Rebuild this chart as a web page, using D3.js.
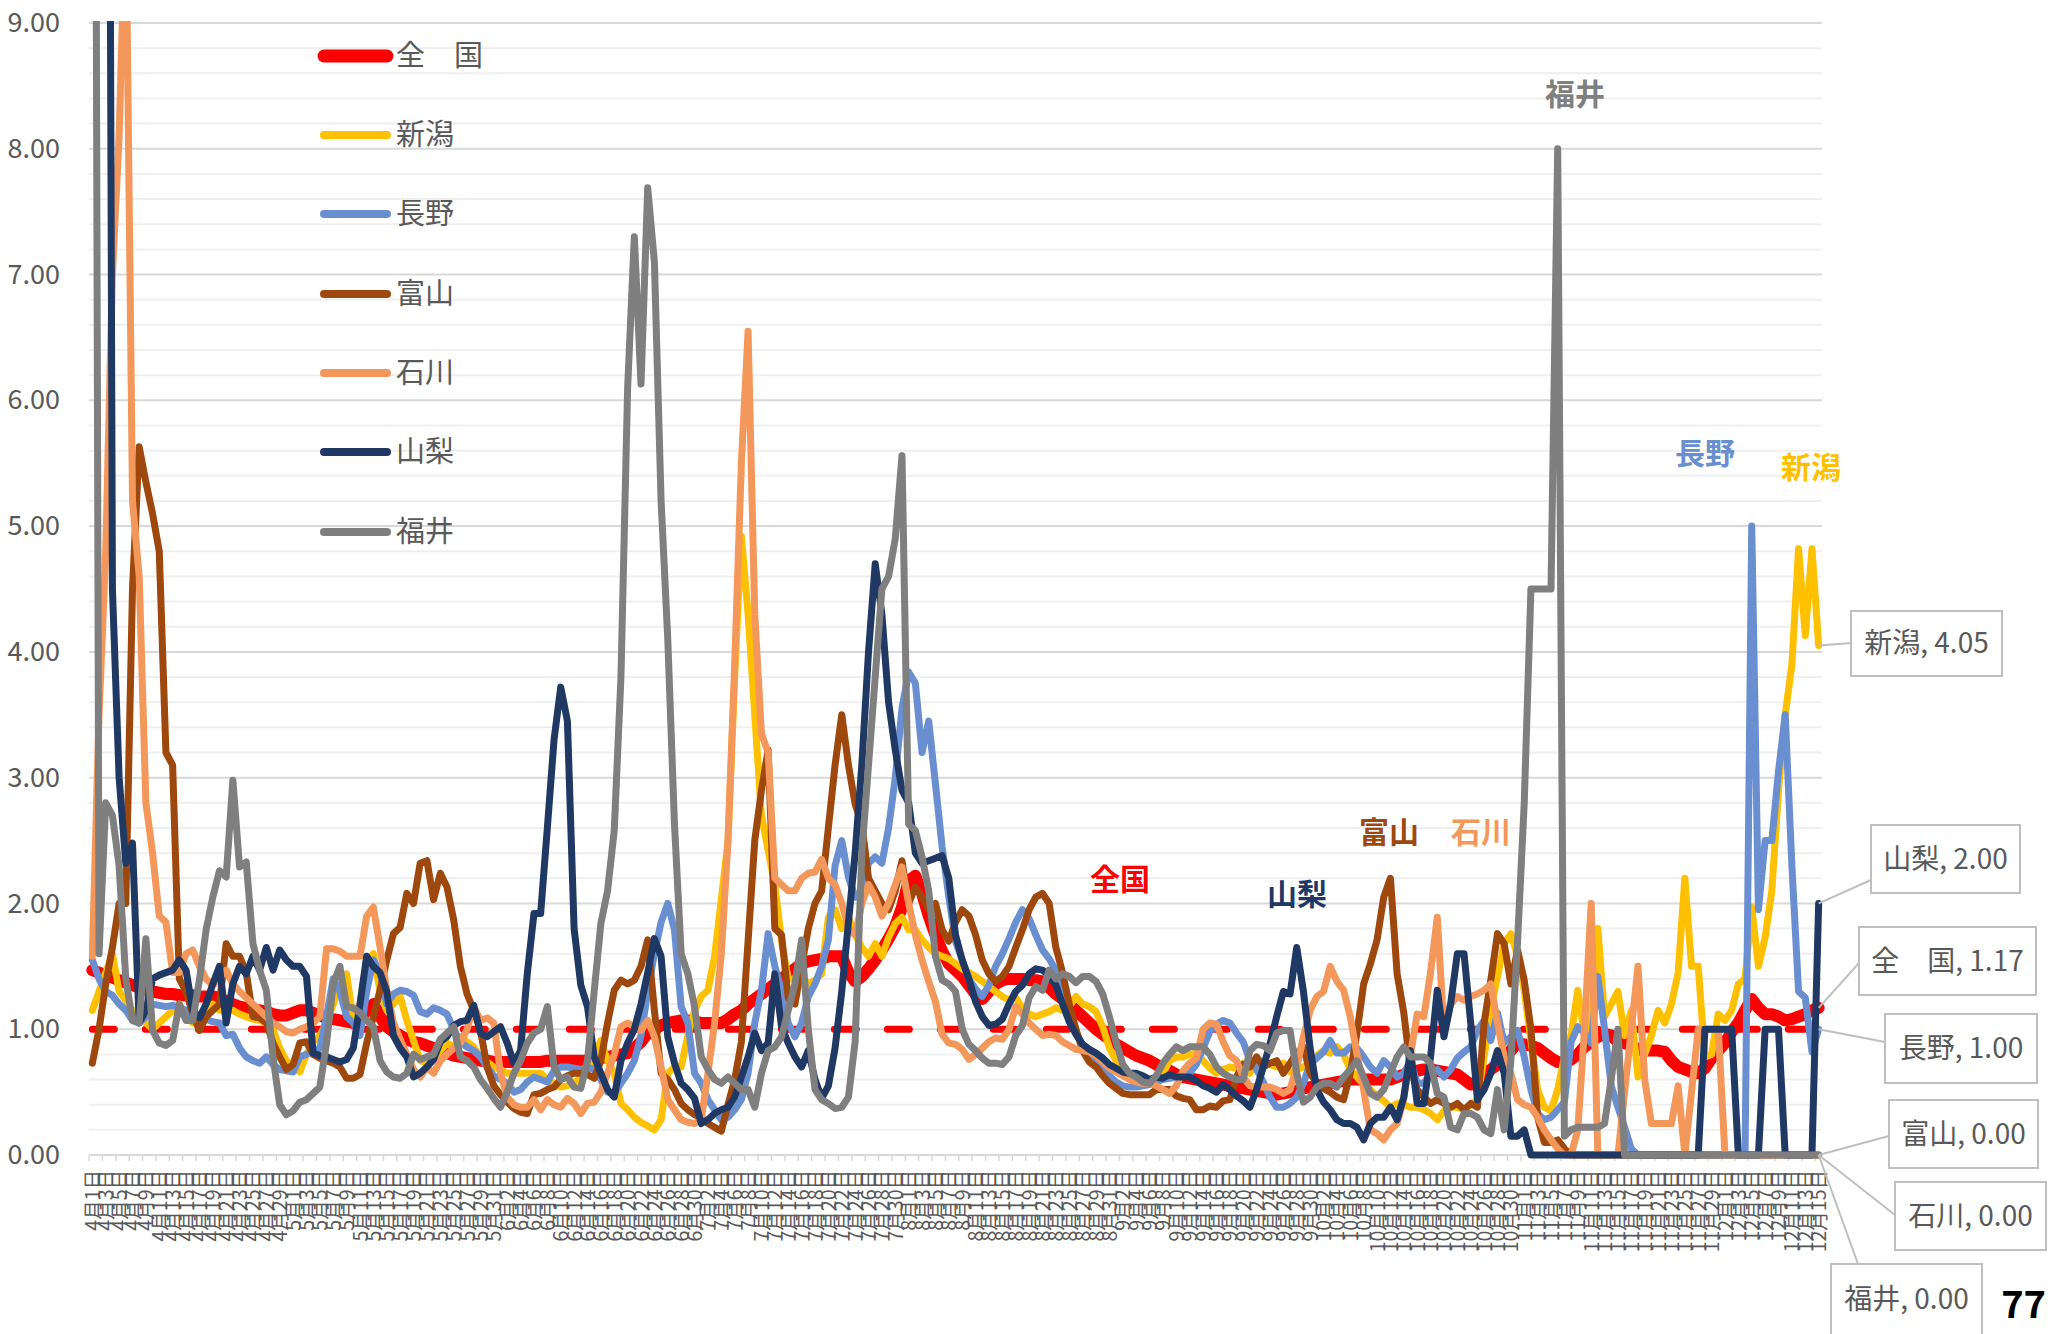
<!DOCTYPE html>
<html><head><meta charset="utf-8">
<script src="https://cdn.jsdelivr.net/npm/d3@7"></script>
<style>
html,body{margin:0;padding:0;background:#fff;}
svg{display:block;}
text{font-family:'Noto Sans CJK JP','Noto Sans',sans-serif;}
</style>
</head><body>
<svg id="chart" width="2055" height="1334"></svg>
<script>
// ---- categories (daily, 4/1 - 12/15) ----
const months = [4,5,6,7,8,9,10,11,12];
const monthLengths = [30,31,30,31,31,30,31,30,15];
const categories = [];
months.forEach((m,k)=>{ for(let d=1; d<=monthLengths[k]; d++) categories.push(m+"月"+d+"日"); });

const yTicks = [0,1,2,3,4,5,6,7,8,9];
const refLevel = 1.0;

// ---- series values ----
const zenkoku = [
1.47,1.45,1.43,1.41,1.39,1.37,1.35,1.33,1.31,1.30,
1.29,1.28,1.28,1.27,1.27,1.27,1.26,1.26,1.26,1.25,
1.22,1.20,1.18,1.17,1.16,1.15,1.14,1.12,1.11,1.11,
1.13,1.15,1.15,1.13,1.11,1.09,1.08,1.07,1.06,1.05,
1.08,1.15,1.20,1.10,1.02,0.98,0.95,0.92,0.90,0.89,
0.87,0.85,0.83,0.81,0.79,0.78,0.77,0.76,0.75,0.75,
0.74,0.74,0.74,0.74,0.74,0.74,0.74,0.74,0.75,0.75,
0.75,0.75,0.75,0.75,0.75,0.76,0.77,0.78,0.79,0.80,
0.81,0.85,0.90,0.97,1.00,1.03,1.05,1.06,1.07,1.07,
1.06,1.05,1.05,1.05,1.05,1.08,1.12,1.15,1.20,1.24,
1.28,1.32,1.36,1.40,1.44,1.48,1.52,1.54,1.55,1.56,
1.58,1.58,1.58,1.45,1.38,1.42,1.48,1.55,1.63,1.72,
1.82,1.97,2.18,2.22,2.08,1.90,1.75,1.62,1.52,1.47,
1.42,1.35,1.28,1.24,1.30,1.36,1.39,1.40,1.40,1.40,
1.39,1.39,1.38,1.33,1.28,1.24,1.20,1.15,1.10,1.05,
1.00,0.96,0.92,0.88,0.85,0.82,0.79,0.77,0.75,0.72,
0.69,0.67,0.64,0.62,0.61,0.60,0.59,0.58,0.57,0.56,
0.55,0.54,0.53,0.52,0.51,0.50,0.49,0.48,0.49,0.50,
0.51,0.53,0.54,0.55,0.56,0.57,0.58,0.59,0.60,0.60,
0.60,0.60,0.60,0.60,0.60,0.62,0.64,0.66,0.67,0.68,
0.68,0.67,0.66,0.65,0.64,0.60,0.56,0.58,0.63,0.68,
0.72,0.77,0.83,0.89,0.88,0.87,0.85,0.81,0.77,0.74,
0.73,0.76,0.80,0.86,0.90,0.94,0.96,0.95,0.90,0.89,
0.87,0.84,0.83,0.83,0.83,0.82,0.75,0.70,0.68,0.66,
0.65,0.69,0.77,0.83,0.89,0.98,1.05,1.15,1.24,1.17,
1.12,1.12,1.10,1.07,1.08,1.10,1.12,1.15,1.17];

const niigata = [
1.15,1.30,1.45,1.60,1.30,1.23,1.15,1.10,1.05,1.00,
1.05,1.10,1.15,1.20,1.10,1.05,1.10,1.15,1.20,1.15,
1.15,1.15,1.12,1.10,1.08,1.07,1.05,1.00,0.85,0.75,
0.70,0.66,0.80,0.90,0.95,1.05,1.20,1.35,1.44,1.07,
1.20,1.55,1.60,1.30,1.15,1.20,1.26,1.07,0.91,0.75,
0.73,0.76,0.83,0.89,0.86,0.94,0.90,0.86,0.78,0.74,
0.70,0.68,0.65,0.65,0.65,0.65,0.65,0.65,0.60,0.57,
0.54,0.55,0.57,0.62,0.68,0.78,0.91,0.75,0.65,0.41,
0.36,0.30,0.26,0.23,0.20,0.28,0.65,0.70,0.70,0.95,
1.15,1.26,1.31,1.58,2.03,2.50,3.80,4.92,4.30,3.50,
2.70,2.42,2.15,1.70,1.40,1.40,1.42,1.36,1.39,1.44,
1.89,1.95,1.80,1.89,1.75,1.65,1.58,1.68,1.58,1.73,
1.84,1.89,1.79,1.79,1.71,1.65,1.60,1.58,1.56,1.52,
1.48,1.45,1.42,1.38,1.34,1.30,1.26,1.23,1.25,1.17,
1.12,1.10,1.12,1.14,1.17,1.15,1.18,1.26,1.20,1.18,
1.14,1.02,0.85,0.75,0.67,0.63,0.60,0.57,0.57,0.60,
0.65,0.75,0.78,0.78,0.80,0.81,0.75,0.69,0.65,0.68,
0.70,0.69,0.73,0.65,0.72,0.75,0.72,0.70,0.73,0.66,
0.68,0.70,0.74,0.79,0.83,0.81,0.86,0.80,0.68,0.62,
0.56,0.52,0.47,0.43,0.38,0.41,0.40,0.38,0.38,0.36,
0.33,0.28,0.35,0.38,0.38,0.36,0.40,0.44,0.78,1.15,
1.42,1.68,1.76,1.58,1.31,0.91,0.52,0.38,0.35,0.52,
0.78,0.95,1.31,0.95,1.05,1.80,1.10,1.20,1.30,0.95,
1.15,0.62,0.80,0.95,1.15,1.05,1.20,1.45,2.20,1.50,
1.50,0.78,0.80,1.12,1.07,1.15,1.36,1.40,1.97,1.50,
1.73,2.10,2.90,3.50,3.90,4.82,4.13,4.82,4.05];

const nagano = [
1.55,1.40,1.30,1.27,1.20,1.15,1.07,1.05,1.10,1.20,
1.19,1.18,1.19,1.17,1.15,1.10,1.10,1.08,1.06,1.05,
0.95,0.96,0.85,0.78,0.75,0.73,0.78,0.72,0.68,0.67,
0.66,0.78,0.80,0.82,0.85,1.10,1.40,1.30,1.10,1.05,
0.95,1.30,1.55,1.45,1.20,1.28,1.31,1.30,1.27,1.14,
1.12,1.17,1.15,1.12,1.00,0.90,0.86,0.83,0.78,0.70,
0.63,0.60,0.57,0.50,0.52,0.58,0.62,0.60,0.58,0.67,
0.70,0.70,0.69,0.68,0.70,0.68,0.60,0.50,0.49,0.57,
0.65,0.75,0.95,1.30,1.60,1.85,2.00,1.79,1.18,1.05,
0.65,0.57,0.44,0.36,0.28,0.30,0.36,0.44,0.65,1.05,
1.31,1.76,1.50,1.31,1.05,0.94,1.05,1.26,1.36,1.50,
1.71,2.30,2.50,2.21,2.05,2.10,2.32,2.37,2.32,2.60,
3.00,3.55,3.84,3.75,3.20,3.45,2.95,2.45,2.05,1.70,
1.55,1.40,1.32,1.26,1.35,1.50,1.60,1.72,1.85,1.95,
1.88,1.75,1.63,1.56,1.47,1.30,1.12,0.98,0.87,0.82,
0.75,0.69,0.63,0.58,0.55,0.54,0.54,0.55,0.56,0.58,
0.60,0.61,0.62,0.63,0.65,0.72,0.85,0.98,1.04,1.07,
1.05,0.97,0.90,0.75,0.68,0.58,0.46,0.38,0.38,0.41,
0.46,0.57,0.73,0.77,0.82,0.91,0.81,0.81,0.86,0.85,
0.78,0.70,0.65,0.75,0.70,0.62,0.65,0.75,0.57,0.57,
0.65,0.68,0.62,0.68,0.77,0.82,0.86,0.99,1.07,0.91,
1.13,0.89,0.94,0.99,0.78,0.52,0.33,0.28,0.30,0.36,
0.42,0.90,1.02,0.97,0.89,1.42,1.00,0.55,0.38,0.22,
0.05,0,0,0,0,0,0,0,0,0,
0,0,0,0,0,0,0,0,5.00,1.95,
2.50,2.50,3.05,3.50,2.30,1.30,1.25,0.82,1.00];

const toyama = [
0.73,1.00,1.36,1.65,2.00,2.00,4.50,5.63,5.35,5.10,
4.80,3.20,3.10,1.40,1.30,1.12,0.99,1.10,1.15,1.20,
1.68,1.58,1.58,1.45,1.10,1.09,1.05,0.89,0.78,0.68,
0.72,0.89,0.90,0.80,0.77,0.75,0.73,0.70,0.61,0.61,
0.64,0.89,1.10,1.31,1.55,1.76,1.81,2.08,2.00,2.32,
2.34,2.03,2.24,2.13,1.87,1.50,1.28,1.15,0.99,0.70,
0.55,0.48,0.42,0.37,0.34,0.33,0.48,0.49,0.52,0.54,
0.60,0.63,0.65,0.65,0.64,0.61,0.75,1.05,1.31,1.39,
1.36,1.39,1.50,1.71,1.15,0.65,0.60,0.52,0.41,0.36,
0.32,0.30,0.25,0.22,0.19,0.40,0.60,0.90,1.70,2.50,
2.90,3.22,1.80,1.75,1.25,1.20,1.50,1.80,2.00,2.10,
2.60,3.10,3.50,3.10,2.79,2.63,2.20,2.10,2.00,1.95,
2.10,2.34,2.00,2.13,2.05,1.95,2.00,1.79,1.70,1.85,
1.95,1.90,1.75,1.55,1.44,1.38,1.42,1.50,1.65,1.79,
1.95,2.05,2.08,2.00,1.65,1.45,1.20,1.00,0.83,0.74,
0.70,0.63,0.57,0.53,0.49,0.48,0.48,0.48,0.48,0.52,
0.52,0.52,0.47,0.45,0.44,0.36,0.36,0.39,0.38,0.43,
0.44,0.62,0.72,0.70,0.78,0.70,0.73,0.75,0.65,0.73,
0.81,0.86,0.65,0.57,0.53,0.50,0.46,0.44,0.65,0.97,
1.36,1.52,1.71,2.05,2.20,1.44,1.13,0.68,0.52,0.46,
0.41,0.44,0.41,0.38,0.41,0.36,0.41,0.38,1.05,1.39,
1.76,1.68,1.36,1.63,1.39,1.00,0.30,0.10,0.10,0.12,
0.05,0,0,0,0,0,0,0,0,0,
0,0,0,0,0,0,0,0,0,0,
0,0,0,0,0,0,0,0,0,0,
0,0,0,0,0,0,0,0,0];

const ishikawa = [
1.58,3.50,4.80,7.00,8.10,10.0,5.20,4.60,2.80,2.40,
1.90,1.85,1.45,1.45,1.60,1.63,1.50,1.40,1.35,1.40,
1.47,1.36,1.30,1.25,1.20,1.15,1.10,1.05,1.02,0.98,
0.97,1.00,1.02,1.05,1.10,1.64,1.64,1.62,1.58,1.58,
1.58,1.90,1.97,1.65,1.31,1.05,0.92,0.80,0.68,0.62,
0.70,0.65,0.75,0.80,0.85,0.89,1.00,1.18,1.07,1.09,
1.05,0.65,0.46,0.40,0.38,0.38,0.44,0.36,0.44,0.40,
0.38,0.45,0.41,0.33,0.41,0.42,0.50,0.65,0.80,1.02,
1.05,1.02,0.99,1.07,0.94,0.70,0.44,0.36,0.28,0.26,
0.25,0.28,0.65,1.05,1.60,2.50,3.90,5.50,6.55,4.30,
3.35,3.20,2.20,2.15,2.10,2.10,2.20,2.24,2.25,2.35,
2.20,2.15,2.00,1.80,1.75,2.00,2.15,2.05,1.90,2.00,
2.15,2.29,2.00,1.75,1.55,1.38,1.22,0.96,0.89,0.88,
0.84,0.76,0.80,0.85,0.90,0.93,0.92,1.00,1.18,1.12,
1.05,1.00,0.95,0.96,0.95,0.90,0.87,0.84,0.83,0.82,
0.79,0.74,0.69,0.66,0.63,0.60,0.58,0.57,0.57,0.55,
0.52,0.49,0.55,0.67,0.73,0.77,1.00,1.05,1.04,0.90,
0.79,0.75,0.62,0.55,0.54,0.54,0.54,0.52,0.49,0.52,
0.70,0.94,1.15,1.26,1.30,1.50,1.38,1.31,1.10,0.80,
0.52,0.20,0.17,0.12,0.20,0.25,0.45,0.80,1.12,1.10,
1.45,1.89,1.00,1.20,1.26,1.23,1.26,1.28,1.31,1.36,
1.05,0.78,0.65,0.44,0.40,0.38,0.30,0.20,0.12,0.05,
0,0,0.20,1.00,2.00,0,0,0,0,0.50,
1.00,1.50,0.60,0.25,0.25,0.25,0.25,0.55,0,0.50,
1.00,1.00,1.00,1.00,0,0,0,0,0,0,
0,0,0,0,0,0,0,0,0];

const yamanashi = [
20,20,20,4.50,3.00,2.32,2.48,1.05,1.15,1.40,
1.43,1.45,1.47,1.55,1.47,1.15,1.09,1.20,1.36,1.50,
1.05,1.36,1.50,1.44,1.58,1.47,1.65,1.47,1.63,1.55,
1.50,1.50,1.42,0.81,0.79,0.78,0.76,0.74,0.76,0.85,
1.20,1.58,1.50,1.45,1.30,0.95,0.85,0.78,0.62,0.65,
0.70,0.76,0.90,0.94,1.03,1.06,1.07,1.19,0.97,0.94,
0.98,1.02,0.89,0.73,0.83,1.44,1.92,1.92,2.60,3.30,
3.72,3.45,1.80,1.35,1.18,0.78,0.65,0.52,0.46,0.75,
0.89,1.00,1.20,1.45,1.72,1.58,0.94,0.73,0.57,0.52,
0.45,0.25,0.28,0.33,0.36,0.38,0.46,0.62,0.78,0.97,
0.83,0.89,1.44,1.02,0.89,0.78,0.70,0.83,0.60,0.45,
0.55,0.85,1.30,1.85,2.40,3.10,4.00,4.70,4.30,3.60,
3.22,2.90,2.80,2.40,2.32,2.34,2.36,2.38,2.20,1.75,
1.55,1.40,1.22,1.10,1.03,1.04,1.08,1.20,1.30,1.35,
1.44,1.48,1.47,1.43,1.35,1.20,1.06,0.96,0.88,0.84,
0.81,0.77,0.72,0.69,0.66,0.65,0.65,0.63,0.60,0.62,
0.61,0.64,0.62,0.62,0.62,0.59,0.55,0.53,0.50,0.56,
0.52,0.47,0.43,0.38,0.52,0.70,0.88,1.10,1.30,1.28,
1.65,1.30,0.85,0.52,0.42,0.36,0.28,0.25,0.25,0.22,
0.12,0.25,0.30,0.30,0.38,0.28,0.46,0.83,0.41,0.41,
0.78,1.31,0.94,1.20,1.60,1.60,1.05,0.44,0.52,0.65,
0.83,0.65,0.15,0.15,0.20,0,0,0,0,0,
0,0,0,0,0,0,0,0,0,0,
0,0,0,0,0,0,0,0,0,0,
0,1,1,1,1,1,0,0,0,0,
1,1,1,0,0,0,0,0,2.00];

const fukui = [
20,1.60,2.80,2.70,2.30,1.40,1.07,1.05,1.72,0.99,
0.89,0.87,0.91,1.20,1.07,1.07,1.39,1.79,2.05,2.26,
2.21,2.98,2.29,2.33,1.68,1.47,1.31,0.78,0.40,0.32,
0.35,0.42,0.44,0.49,0.54,0.89,1.36,1.50,1.18,1.17,
1.13,1.07,1.02,0.75,0.66,0.62,0.61,0.65,0.80,0.76,
0.78,0.80,0.92,0.97,1.02,0.78,0.75,0.70,0.60,0.53,
0.45,0.38,0.50,0.65,0.75,0.89,0.97,1.00,1.18,0.70,
0.60,0.62,0.54,0.53,0.75,1.30,1.84,2.10,2.58,3.80,
6.10,7.30,6.13,7.69,7.10,5.20,4.10,2.63,1.60,1.44,
1.18,0.78,0.68,0.60,0.57,0.62,0.57,0.52,0.52,0.38,
0.65,0.83,0.86,0.94,1.15,1.36,1.71,1.00,0.52,0.44,
0.41,0.37,0.38,0.46,0.90,2.40,3.10,3.80,4.50,4.60,
4.90,5.56,2.63,2.58,2.37,2.10,1.58,1.39,1.36,1.30,
1.00,0.88,0.83,0.77,0.73,0.73,0.72,0.78,0.95,1.03,
1.25,1.34,1.31,1.47,1.40,1.44,1.42,1.37,1.42,1.42,
1.38,1.28,1.10,0.90,0.72,0.65,0.62,0.58,0.57,0.63,
0.73,0.80,0.86,0.83,0.86,0.86,0.86,0.80,0.70,0.65,
0.62,0.60,0.60,0.83,0.88,0.87,0.83,0.97,0.99,0.99,
0.65,0.42,0.46,0.54,0.57,0.57,0.54,0.62,0.68,0.75,
0.62,0.49,0.46,0.52,0.65,0.78,0.86,0.78,0.78,0.78,
0.73,0.49,0.46,0.22,0.20,0.33,0.33,0.30,0.20,0.17,
0.52,0.20,0.75,1.70,2.80,4.50,4.50,4.50,4.50,8.00,
0.15,0.20,0.22,0.22,0.22,0.22,0.25,0.60,1.00,0,
0,0,0,0,0,0,0,0,0,0,
0,0,0,0,0,0,0,0,0,0,
0,0,0,0,0,0,0,0,0];

const seriesNames  = ["全　国","新潟","長野","富山","石川","山梨","福井"];
const shortNames   = ["全国","新潟","長野","富山","石川","山梨","福井"];
const seriesValues = [zenkoku, niigata, nagano, toyama, ishikawa, yamanashi, fukui];
const seriesColors = ["#ff0000","#ffc000","#6a8fd0","#9e480e","#f4975b","#203864","#7f7f7f"];

// ---- layout ----
const svg = d3.select("#chart");
const L = 89, R = 1822, T = 23, B = 1155;
const x = d3.scalePoint().domain(d3.range(categories.length)).range([L, R]).padding(0.5);
const y = d3.scaleLinear().domain([0, 9]).range([B, T]);
const step = x.step();
const font = "'Noto Sans CJK JP','Noto Sans',sans-serif";

// gridlines
const minor = d3.range(1, 45).map(k => +(k * 0.2).toFixed(1)).filter(v => Math.abs(v - Math.round(v)) > 1e-6);
svg.append("g").selectAll("line").data(minor).join("line")
  .attr("x1", L).attr("x2", R).attr("y1", d => y(d)).attr("y2", d => y(d))
  .attr("stroke", "#efefef").attr("stroke-width", 2);
svg.append("g").selectAll("line").data(yTicks.filter(v => v > 0)).join("line")
  .attr("x1", L).attr("x2", R).attr("y1", d => y(d)).attr("y2", d => y(d))
  .attr("stroke", "#d9d9d9").attr("stroke-width", 2);

// y axis labels
const yAxis = svg.append("g").attr("transform", `translate(${L},0)`)
  .call(d3.axisLeft(y).tickValues(yTicks).tickFormat(d3.format(".2f")).tickSize(0).tickPadding(29));
yAxis.select(".domain").remove();
yAxis.selectAll("text").attr("font-family", font).attr("font-size", 27).attr("fill", "#595959");

// x axis
svg.append("line").attr("x1", L).attr("x2", R).attr("y1", B).attr("y2", B)
  .attr("stroke", "#d9d9d9").attr("stroke-width", 2);
const tickBounds = d3.range(0, categories.length + 1, 2).map(k => L + k * step);
svg.append("g").selectAll("line").data(tickBounds).join("line")
  .attr("x1", d => d).attr("x2", d => d).attr("y1", B).attr("y2", B + 6)
  .attr("stroke", "#d9d9d9").attr("stroke-width", 1.5);
const xAxis = svg.append("g").attr("transform", `translate(0,${B})`)
  .call(d3.axisBottom(x).tickValues(d3.range(0, categories.length, 2)).tickFormat(i => categories[i]).tickSize(0));
xAxis.select(".domain").remove();
xAxis.selectAll("text")
  .attr("transform", "rotate(-90)")
  .attr("text-anchor", "end")
  .attr("x", -15).attr("y", 0).attr("dy", "0.36em")
  .attr("font-family", font).attr("font-size", 19.5).attr("fill", "#595959");

// clip
svg.append("defs").append("clipPath").attr("id", "plotclip")
  .append("rect").attr("x", 60).attr("y", 21).attr("width", 1790).attr("height", 1160);

const line = d3.line().x((d, i) => x(i)).y(d => y(d));
const plot = svg.append("g").attr("clip-path", "url(#plotclip)");

// reference dashed line at 1.0
plot.append("path")
  .attr("d", line(categories.map(() => refLevel)))
  .attr("fill", "none").attr("stroke", "#ff0000").attr("stroke-width", 7)
  .attr("stroke-dasharray", "22 31").attr("stroke-linecap", "round");

seriesValues.forEach((vals, k) => {
  plot.append("path").attr("d", line(vals))
    .attr("fill", "none").attr("stroke", seriesColors[k])
    .attr("stroke-width", k === 0 ? 12 : 7)
    .attr("stroke-linejoin", "round").attr("stroke-linecap", "round");
});

// legend
const legY = [56, 135, 214, 294, 373, 452, 532];
const leg = svg.append("g");
seriesNames.forEach((n, k) => {
  leg.append("line").attr("x1", 324).attr("x2", 387).attr("y1", legY[k]).attr("y2", legY[k])
    .attr("stroke", seriesColors[k]).attr("stroke-width", k === 0 ? 13 : 8).attr("stroke-linecap", "round");
  leg.append("text").attr("x", 396).attr("y", legY[k]).attr("dy", "0.35em")
    .attr("font-family", font).attr("font-size", 29).attr("fill", "#595959").text(n);
});

// in-plot annotations
const notes = [
  {k: 6, x: 1575, y: 94},
  {k: 2, x: 1705, y: 453},
  {k: 1, x: 1811, y: 467},
  {k: 0, x: 1120, y: 879},
  {k: 5, x: 1297, y: 894},
  {k: 3, x: 1389, y: 832},
  {k: 4, x: 1481, y: 832}
];
notes.forEach(a => {
  svg.append("text").attr("x", a.x).attr("y", a.y).attr("dy", "0.35em")
    .attr("text-anchor", "middle").attr("font-family", font).attr("font-weight", "bold")
    .attr("font-size", 30).attr("fill", seriesColors[a.k]).text(shortNames[a.k]);
});

// end-point data labels with leader lines
const last = categories.length - 1;
const boxes = [
  {k: 1, bx: 1851, by: 611, bw: 151, bh: 65, lx: 1851, ly: 643},
  {k: 5, bx: 1871, by: 825, bw: 149, bh: 68, lx: 1871, ly: 880},
  {k: 0, bx: 1859, by: 927, bw: 177, bh: 68, lx: 1859, ly: 963},
  {k: 2, bx: 1885, by: 1014, bw: 152, bh: 69, lx: 1885, ly: 1042},
  {k: 3, bx: 1889, by: 1100, bw: 149, bh: 68, lx: 1889, ly: 1136},
  {k: 4, bx: 1895, by: 1182, bw: 151, bh: 68, lx: 1895, ly: 1215},
  {k: 6, bx: 1831, by: 1264, bw: 151, bh: 76, lx: 1858, ly: 1264}
];
const lbl = svg.append("g");
boxes.forEach(b => {
  const v = seriesValues[b.k][last];
  lbl.append("line").attr("x1", x(last)).attr("y1", y(v)).attr("x2", b.lx).attr("y2", b.ly)
    .attr("stroke", "#bfbfbf").attr("stroke-width", 2);
});
boxes.forEach(b => {
  const v = seriesValues[b.k][last];
  lbl.append("rect").attr("x", b.bx).attr("y", b.by).attr("width", b.bw).attr("height", b.bh)
    .attr("fill", "#fff").attr("stroke", "#bfbfbf").attr("stroke-width", 2);
  lbl.append("text").attr("x", b.bx + b.bw / 2).attr("y", b.by + Math.min(b.bh, 70) / 2).attr("dy", "0.35em")
    .attr("text-anchor", "middle").attr("font-family", font).attr("font-size", 28).attr("fill", "#595959")
    .text(seriesNames[b.k] + ", " + d3.format(".2f")(v));
});

// page number fragment
svg.append("text").attr("x", 2046).attr("y", 1318).attr("text-anchor", "end")
  .attr("font-family", "'Noto Sans',sans-serif")
  .attr("font-weight", "bold").attr("font-size", 38).attr("fill", "#000").text("77");
</script>
</body></html>
